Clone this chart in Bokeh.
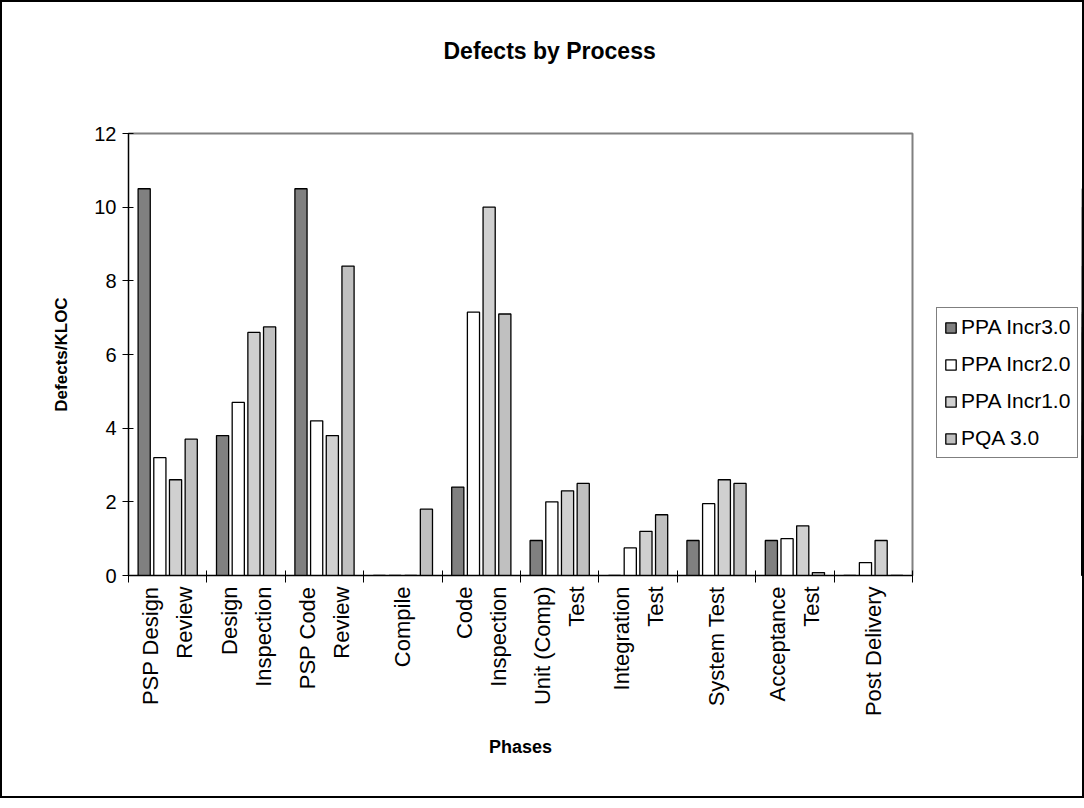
import math
import numpy as np
from bokeh.plotting import figure
from bokeh.layouts import row
from bokeh.models import Range1d, FixedTicker, Legend, LegendItem
from bokeh.embed import file_html
from bokeh.resources import INLINE

# ---- data ----
phases = ["PSP Design\nReview", "Design\nInspection", "PSP Code\nReview", "Compile",
          "Code\nInspection", "Unit (Comp)\nTest", "Integration\nTest", "System Test",
          "Acceptance\nTest", "Post Delivery"]
series_names = ["PPA Incr3.0", "PPA Incr2.0", "PPA Incr1.0", "PQA 3.0"]
ppa_incr3 = [10.5, 3.8, 10.5, 0, 2.4, 0.95, 0, 0.95, 0.95, 0]
ppa_incr2 = [3.2, 4.7, 4.2, 0, 7.15, 2.0, 0.75, 1.95, 1.0, 0.35]
ppa_incr1 = [2.6, 6.6, 3.8, 0, 10.0, 2.3, 1.2, 2.6, 1.35, 0.95]
pqa_30 = [3.7, 6.75, 8.4, 1.8, 7.1, 2.5, 1.65, 2.5, 0.08, 0]
y_ticks = [0, 2, 4, 6, 8, 10, 12]

series = [ppa_incr3, ppa_incr2, ppa_incr1, pqa_30]
colors = ["#808080", "#ffffff", "#d0d0d0", "#c0c0c0"]
offsets = [-0.3, -0.1, 0.1, 0.3]
FONT = "Liberation Sans"
INK = "black"

n = len(phases)
y_max = y_ticks[-1]
centers = np.arange(n) + 0.5
boundaries = list(range(n + 1))

# ---------------- main chart ----------------
p = figure(width=930, height=794, output_backend="svg", toolbar_location=None,
           x_range=Range1d(0, n), y_range=Range1d(0, y_max),
           min_border_left=126, min_border_top=131, min_border_right=20, min_border_bottom=221,
           title="Defects by Process\n\n")
p.background_fill_color = "white"
p.border_fill_color = "white"
p.grid.visible = False
p.outline_line_color = "#808080"
p.outline_line_width = 2

p.title.text_font = FONT
p.title.text_font_size = "23px"
p.title.text_font_style = "bold"
p.title.text_color = INK
p.title.text_line_height = 1.2
p.title.align = "left"
p.title.offset = 315
p.title.standoff = 14

for vals, col, off in zip(series, colors, offsets):
    p.vbar(x=centers + off, top=vals, width=0.155, bottom=0,
           fill_color=col, line_color="black", line_width=1.3)

# y axis
ya = p.yaxis[0]
ya.ticker = FixedTicker(ticks=y_ticks, minor_ticks=[])
ya.axis_label = "Defects/KLOC"
ya.axis_label_text_font = FONT
ya.axis_label_text_font_style = "bold"
ya.axis_label_text_font_size = "17px"
ya.axis_label_text_color = INK
ya.axis_label_standoff = 20
ya.major_label_text_font = FONT
ya.major_label_text_font_size = "20px"
ya.major_label_text_color = INK
ya.major_label_standoff = 6
ya.major_tick_in = 5
ya.major_tick_out = 6
ya.axis_line_color = "black"
ya.major_tick_line_color = "black"

# x axis: labels at centres, tick marks at category boundaries
xa = p.xaxis[0]
xa.ticker = FixedTicker(ticks=list(centers), minor_ticks=boundaries)
xa.major_label_overrides = {float(c): lab for c, lab in zip(centers, phases)}
xa.major_label_orientation = math.pi / 2
xa.major_label_text_font = FONT
xa.major_label_text_font_size = "22px"
xa.major_label_text_color = INK
xa.major_label_text_line_height = 1.36
xa.major_label_standoff = 4
xa.major_tick_line_color = None
xa.major_tick_in = 0
xa.major_tick_out = 0
xa.minor_tick_line_color = "black"
xa.minor_tick_in = 5
xa.minor_tick_out = 7
xa.axis_line_color = "black"
xa.axis_label = "Phases"
xa.axis_label_text_font = FONT
xa.axis_label_text_font_style = "bold"
xa.axis_label_text_font_size = "18px"
xa.axis_label_text_color = INK
xa.axis_label_standoff = 18

# ---------------- legend panel (its frame is aligned with the chart's) ----------------
lp = figure(width=150, height=794, output_backend="svg", toolbar_location=None,
            x_range=Range1d(-20, -19), y_range=Range1d(0, y_max),
            x_axis_location=None, y_axis_location=None,
            min_border_left=0, min_border_right=0, min_border_top=0, min_border_bottom=0)
lp.grid.visible = False
lp.outline_line_color = None
lp.background_fill_color = "white"
lp.border_fill_color = "white"

items = []
for name, vals, col, off in zip(series_names, series, colors, offsets):
    r = lp.vbar(x=centers + off, top=vals, width=0.155, bottom=0,
                fill_color=col, line_color="black", line_width=1.3)
    items.append(LegendItem(label=name, renderers=[r]))

legend = Legend(items=items, location=(4, 117), border_line_color="black",
                border_line_width=1.3, padding=7, spacing=13,
                glyph_width=13, glyph_height=13, label_standoff=4,
                label_text_font=FONT, label_text_font_size="21px",
                label_text_color=INK,
                background_fill_color="white", background_fill_alpha=1.0)
lp.add_layout(legend, "center")

layout = row(p, lp, spacing=0)
layout.styles = {"border": "2px solid black"}

open("out.html", "w").write(file_html(layout, INLINE))
